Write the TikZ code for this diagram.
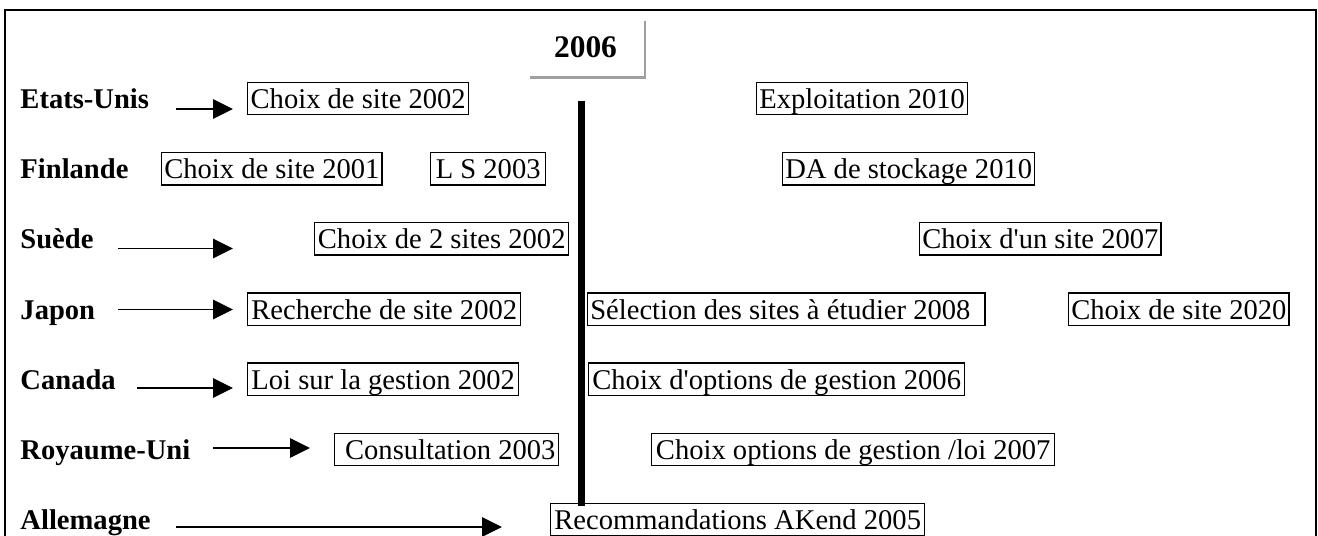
\documentclass[tikz,border=0pt]{standalone}
\usepackage{fontspec}
\setmainfont{Liberation Serif}
\usetikzlibrary{arrows.meta}
\newdimen\pxu \pxu=0.42pt
\newcommand\straightq{{\XeTeXglyph\XeTeXcharglyph"27\relax}}
\definecolor{shadowgray}{HTML}{A0A0A0}
\begin{document}
\begin{tikzpicture}[x=0.42pt,y=-0.42pt,
  lbl/.style={font=\fontsize{12}{14}\selectfont\bfseries, anchor=base west, inner sep=0pt},
  bx/.style={draw, line width=0.6pt, font=\fontsize{12}{14}\selectfont, inner xsep=1.1pt, inner ysep=0pt,
             text height=11pt, text depth=2.6pt, anchor=west, minimum width=#1},
  arr/.style={line width=0.55pt, -{Triangle[length=8.4pt,width=8.2pt]}},
  yearlbl/.style={font=\fontsize{13.2}{15}\selectfont\bfseries, anchor=base, inner sep=0pt},
  shadowline/.style={draw=shadowgray, line width=1pt},
  frameline/.style={line width=0.85pt},
  barline/.style={line width=7\pxu}]
\useasboundingbox (0,0) rectangle (1318,535);
\fill[white] (0,0) rectangle (1318,535);
\clip (0,0) rectangle (1318,535);
% frame
\draw[frameline] (5,560) -- (5,9.6) -- (1316,9.6) -- (1316,560);
% 2006
\node[yearlbl] (yr) at (585.5,57.3) {2006};
\coordinate (shA) at (530,77.5);
\coordinate (shB) at (645,77.5);
\coordinate (shC) at (645,21.2);
\draw[shadowline] (shA) -- (shB) -- (shC);
% vertical bar
\coordinate (bartop) at (581.5,100.7);
\coordinate (barbot) at (581.5,505.8);
\draw[barline] (bartop) -- (barbot);
% Etats-Unis
\node[lbl] (us) at (20,108.5) {Etats-Unis};
\node[bx=221\pxu] (us1) at (247,98.5) {Choix de site 2002};
\node[bx=210\pxu] (us2) at (756,98.5) {Exploitation 2010};
\coordinate (usA) at (176,109); \coordinate (usB) at (233,109);
\draw[arr] (usA) -- (usB);
% Finlande
\node[lbl] (fi) at (20,178.7) {Finlande};
\node[bx=219\pxu] (fi1) at (161,168.7) {Choix de site 2001};
\node[bx=115\pxu] (fi2) at (430,168.7) {L S 2003\ };
\node[bx=250\pxu] (fi3) at (782,168.7) {DA de stockage 2010};
% Suede
\node[lbl] (se) at (20,248.9) {Suède};
\node[bx=254\pxu] (se1) at (314,238.9) {Choix de 2 sites 2002};
\node[bx=241\pxu] (se2) at (919,238.9) {Choix d\straightq un site 2007};
\coordinate (seA) at (118,248.5); \coordinate (seB) at (233,248.5);
\draw[arr] (seA) -- (seB);
% Japon
\node[lbl] (jp) at (20,319.1) {Japon};
\node[bx=273\pxu] (jp1) at (247,309.1) {Recherche de site 2002};
\node[bx=0pt] (jp2) at (587,309.1) {\makebox[392\pxu][l]{Sélection des sites à étudier 2008}};
\node[bx=220\pxu] (jp3) at (1068,309.1) {Choix de site 2020};
\coordinate (jpA) at (118,309.5); \coordinate (jpB) at (233,309.5);
\draw[arr] (jpA) -- (jpB);
% Canada
\node[lbl] (ca) at (20,389.3) {Canada};
\node[bx=271\pxu] (ca1) at (247,379.3) {Loi sur la gestion 2002};
\node[bx=376\pxu] (ca2) at (588,379.3) {Choix d\straightq options de gestion 2006};
\coordinate (caA) at (137,388); \coordinate (caB) at (233,388);
\draw[arr] (caA) -- (caB);
% Royaume-Uni
\node[lbl] (uk) at (20,459.5) {Royaume-Uni};
\node[bx=224\pxu] (uk1) at (334,449.5) {\ Consultation 2003};
\node[bx=403\pxu] (uk2) at (651,449.5) {Choix options de gestion /loi 2007};
\coordinate (ukA) at (213,448); \coordinate (ukB) at (310,448);
\draw[arr] (ukA) -- (ukB);
% Allemagne
\node[lbl] (de) at (20,529.7) {Allemagne};
\node[bx=374\pxu] (de1) at (550,519.7) {Recommandations AKend 2005};
\coordinate (deA) at (176,527); \coordinate (deB) at (502,527);
\draw[arr] (deA) -- (deB);
\end{tikzpicture}
\end{document}
